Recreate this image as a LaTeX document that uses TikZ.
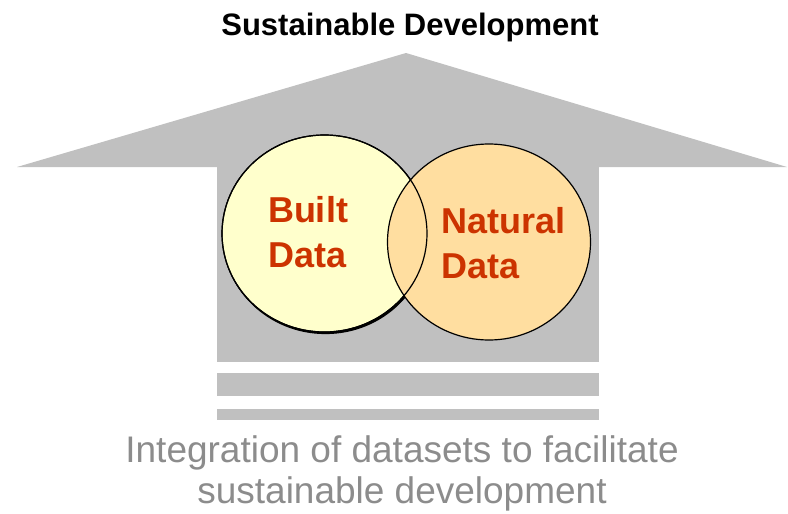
\documentclass[tikz,border=0pt]{standalone}
\usepackage{fontspec}
\setmainfont{Liberation Sans}
\usetikzlibrary{shapes.geometric,positioning}

\definecolor{roofgray}{RGB}{192,192,192}
\definecolor{builtfill}{RGB}{255,255,204}
\definecolor{naturalfill}{RGB}{255,222,160}
\definecolor{datared}{RGB}{204,51,0}
\definecolor{captiongray}{RGB}{140,140,140}

\begin{document}
\begin{tikzpicture}[%
    x=1pt,
    y=-1pt,
    setdisc/.style={ellipse, draw=black, line width=1.2pt, inner sep=0pt},
    setlabel/.style={font=\fontsize{36}{45}\selectfont\bfseries, text=datared, align=left, inner sep=0pt},
    slab/.style={fill=roofgray, draw=none, inner sep=0pt, anchor=north west, minimum width=382pt}]
    \useasboundingbox (0,0) rectangle (788,514);

    \node[font=\fontsize{31}{36}\selectfont\bfseries, anchor=base] (title) at (410,35) {Sustainable Development};

    % roof, wall and steps
    \fill[roofgray] (406,53) -- (787,167) -- (17,167) -- cycle;
    \node[slab, minimum height=196pt] (wall) at (217,166) {};
    \node[slab, minimum height=23pt] (upperstep) at (217,373) {};
    \node[slab, minimum height=11pt, below=12pt of upperstep.south west, anchor=north west] (lowerstep) {};

    % the two data sets
    \node[setdisc, fill=black, minimum width=205pt, minimum height=197pt] (builtshadow) at (325.5,235) {};
    \node[setdisc, fill=builtfill, minimum width=205pt, minimum height=197pt] (built) at (324.5,233.5) {};
    \node[setdisc, fill=naturalfill, minimum width=203pt, minimum height=196pt] (natural) at (489,242) {};
    \draw[line width=1.2pt] (built.center) ellipse [x radius=102.5, y radius=98.5];

    \node[setlabel] (builtlabel) at (308,232) {Built\\Data};
    \node[setlabel] (naturallabel) at (504,243) {Natural\\Data};

    \node[font=\fontsize{37}{41}\selectfont, text=captiongray, align=center, anchor=base] (caption) at (402,503)
        {Integration of datasets to facilitate\\sustainable development};
\end{tikzpicture}
\end{document}
